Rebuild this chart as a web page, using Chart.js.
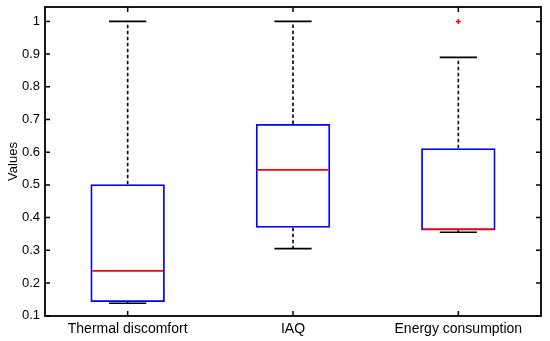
<!DOCTYPE html>
<html>
<head>
<meta charset="utf-8">
<script src="https://cdn.jsdelivr.net/npm/chart.js@4/dist/chart.umd.min.js"></script>
<style>
  html, body { margin: 0; padding: 0; background: #fff; }
  #wrap { width: 550px; height: 341px; }
</style>
</head>
<body>
<div id="wrap"><canvas id="c" width="550" height="341"></canvas></div>
<script>
// ---- data ----
const categories   = ['Thermal discomfort', 'IAQ', 'Energy consumption'];
const whiskerLow   = [0.138, 0.305, 0.355];
const q1           = [0.142, 0.369, 0.361];
const medians      = [0.237, 0.546, 0.364];
const q3           = [0.502, 0.686, 0.612];
const whiskerHigh  = [1.000, 1.000, 0.890];
const outliers     = [null, null, 1.000];
const yTicks       = [0.1, 0.2, 0.3, 0.4, 0.5, 0.6, 0.7, 0.8, 0.9, 1];
const yLabel       = 'Values';

const boxPlotPlugin = {
  id: 'boxparts',
  beforeDatasetsDraw(chart) {
    const {ctx, scales: {x, y}} = chart;
    const meta = chart.getDatasetMeta(0);
    ctx.save();
    categories.forEach((c, i) => {
      const cx = x.getPixelForValue(i);
      const bw = meta.data[i].width;
      const capHalf = bw / 4;
      ctx.strokeStyle = '#000';
      ctx.lineWidth = 1.6;
      ctx.setLineDash([3.5, 2.5]);
      ctx.beginPath();
      ctx.moveTo(cx, y.getPixelForValue(q3[i]));
      ctx.lineTo(cx, y.getPixelForValue(whiskerHigh[i]));
      ctx.moveTo(cx, y.getPixelForValue(q1[i]));
      ctx.lineTo(cx, y.getPixelForValue(whiskerLow[i]));
      ctx.stroke();
      ctx.setLineDash([]);
      ctx.beginPath();
      const yh = y.getPixelForValue(whiskerHigh[i]);
      const yl = y.getPixelForValue(whiskerLow[i]);
      ctx.moveTo(cx - capHalf, yh); ctx.lineTo(cx + capHalf, yh);
      ctx.moveTo(cx - capHalf, yl); ctx.lineTo(cx + capHalf, yl);
      ctx.stroke();
    });
    ctx.restore();
  },
  afterDatasetsDraw(chart) {
    const {ctx, scales: {x, y}} = chart;
    const meta = chart.getDatasetMeta(0);
    ctx.save();
    categories.forEach((c, i) => {
      const cx = x.getPixelForValue(i);
      const bw = meta.data[i].width;
      const ym = y.getPixelForValue(medians[i]);
      ctx.strokeStyle = '#ff0000';
      ctx.lineWidth = 1.6;
      ctx.beginPath();
      ctx.moveTo(cx - bw / 2 + 1.8, ym);
      ctx.lineTo(cx + bw / 2 - 1.8, ym);
      ctx.stroke();
    });
    ctx.restore();
  },
  afterDraw(chart) {
    const {ctx, chartArea: a, scales: {x, y}} = chart;
    ctx.save();
    ctx.strokeStyle = '#000';
    ctx.lineWidth = 1.8;
    ctx.strokeRect(a.left, a.top, a.right - a.left, a.bottom - a.top);
    const tl = 5;
    ctx.lineWidth = 1.5;
    ctx.beginPath();
    y.ticks.forEach(t => {
      const py = y.getPixelForValue(t.value);
      ctx.moveTo(a.left, py); ctx.lineTo(a.left + tl, py);
      ctx.moveTo(a.right, py); ctx.lineTo(a.right - tl, py);
    });
    categories.forEach((c, i) => {
      const px = x.getPixelForValue(i);
      ctx.moveTo(px, a.bottom); ctx.lineTo(px, a.bottom - tl);
      ctx.moveTo(px, a.top); ctx.lineTo(px, a.top + tl);
    });
    ctx.stroke();
    ctx.restore();
  }
};

new Chart(document.getElementById('c'), {
  data: {
    labels: categories,
    datasets: [
      {
        type: 'bar',
        data: categories.map((c, i) => [q1[i], q3[i]]),
        backgroundColor: 'rgba(0,0,0,0)',
        borderColor: '#0000ff',
        borderWidth: 1.8,
        borderSkipped: false,
        categoryPercentage: 1.0,
        barPercentage: 0.45
      },
      {
        type: 'line',
        data: outliers,
        showLine: false,
        pointStyle: 'cross',
        pointRadius: 2.5,
        pointBorderWidth: 1.5,
        borderColor: '#ff0000',
        backgroundColor: '#ff0000'
      }
    ]
  },
  options: {
    responsive: false,
    animation: false,
    devicePixelRatio: 1,
    layout: { padding: { top: 7, right: 9, left: 0, bottom: 0 } },
    plugins: { legend: { display: false }, tooltip: { enabled: false } },
    scales: {
      x: {
        type: 'category',
        offset: true,
        grid: { display: false, drawTicks: false },
        border: { display: false },
        ticks: { color: '#000', font: { family: 'Liberation Sans', size: 14 }, padding: 5, maxRotation: 0, autoSkip: false },
        afterFit(s) { s.height = 25; s.paddingLeft = 0; s.paddingRight = 0; }
      },
      y: {
        type: 'linear',
        min: 0.099,
        max: 1.044,
        grid: { display: false, drawTicks: false },
        border: { display: false },
        afterBuildTicks(s) { s.ticks = yTicks.map(v => ({ value: v })); },
        ticks: {
          color: '#000',
          font: { family: 'Liberation Sans', size: 13 },
          padding: 5,
          callback: v => String(Math.round(v * 10) / 10)
        },
        title: {
          display: true,
          text: yLabel,
          color: '#000',
          font: { family: 'Liberation Sans', size: 13 },
          padding: { top: 6, bottom: 0 }
        },
        afterFit(s) { s.width = 45; s.paddingTop = 0; s.paddingBottom = 0; }
      }
    }
  },
  plugins: [boxPlotPlugin]
});
</script>
</body>
</html>
